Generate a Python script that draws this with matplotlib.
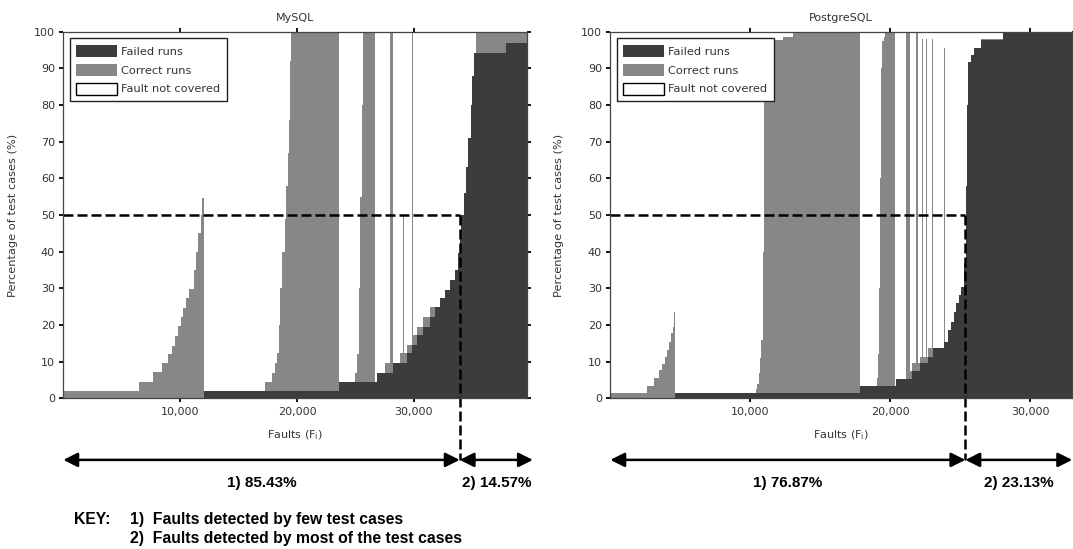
import matplotlib.pyplot as plt
from matplotlib.patches import Patch
import numpy as np

plt.rcParams['font.family'] = ['DejaVu Sans']
bold_font = ['Liberation Sans', 'DejaVu Sans']

# each step starts at x and lasts until the next x (faults sorted)
# failed = % of failed runs, total = failed + correct runs (%)
mysql_x = [0, 6440, 7700, 8440, 9000, 9320, 9590, 9820, 10060, 10260, 10500, 10760,
           11150, 11350, 11560, 11760, 11900,
           12030, 17220, 17850, 18100, 18280, 18420, 18560, 18740, 18930, 19060,
           19190, 19280, 19360, 19430, 19500,
           23600, 24980, 25150, 25300, 25420, 25530, 25650, 26650,
           26830, 27500, 27970, 28170,
           28250, 28800, 29050, 29150, 29400, 29830, 29900, 30260, 30770, 31340,
           31820, 32250, 32680, 33100, 33530, 33750, 33900, 34050, 34250, 34450,
           34650, 34850, 35000, 35150, 35180, 35330, 37900]
mysql_failed = [0, 0, 0, 0, 0, 0, 0, 0, 0, 0, 0, 0,
                0, 0, 0, 0, 0,
                2.1, 2.1, 2.1, 2.1, 2.1, 2.1, 2.1, 2.1, 2.1, 2.1,
                2.1, 2.1, 2.1, 2.1, 2.1,
                4.4, 4.4, 4.4, 4.4, 4.4, 4.4, 4.4, 4.4,
                7.0, 7.0, 7.0, 7.0,
                9.5, 9.5, 9.5, 9.5, 12.3, 14.5, 14.5, 17.3, 19.5, 22.3,
                25.0, 27.3, 29.5, 32.3, 35.0, 39.5, 44.0, 50.0, 56.0, 63.0,
                71.0, 80.0, 88.0, 92.5, 94.3, 94.3, 97.0]
mysql_total = [2.1, 4.4, 7.1, 9.6, 12.0, 14.4, 17.1, 19.6, 22.2, 24.7, 27.3, 29.8,
               35.0, 40.0, 45.0, 50.0, 54.7,
               2.1, 4.5, 7.0, 9.5, 12.3, 20, 30, 40, 49, 58,
               67, 76, 85, 92, 100,
               4.4, 7.0, 12, 30, 55, 80, 100, 4.4,
               7.0, 9.5, 100, 9.5,
               9.5, 12.3, 50, 12.3, 14.5, 100, 17.3, 19.5, 22.3, 25.0,
               25.0, 27.3, 29.5, 32.3, 35.0, 39.5, 44.0, 50.0, 56.0, 63.0,
               71.0, 80.0, 88.0, 100, 94.3, 100, 100]
mysql_faults = 39700
mysql_pct = [85.43, 14.57]

pg_x = [0, 2640, 3140, 3480, 3720, 3890, 4030, 4170, 4360, 4460, 4550,
        4620, 10400, 10500, 10600, 10700, 10800, 10880, 10930, 10960, 10980, 11000,
        12360, 13070,
        17850, 19030, 19100, 19180, 19260, 19330, 19400, 19550, 19650, 20340,
        20400, 21100, 21390, 21520, 21830, 22000, 22110, 22300, 22370, 22590,
        22660, 22710, 22950, 23020, 23040, 23870, 23940, 24120, 24360, 24530,
        24720, 24910, 25070, 25240, 25300, 25380, 25420, 25460, 25500, 25550,
        25750, 25980, 26460, 28050]
pg_failed = [0, 0, 0, 0, 0, 0, 0, 0, 0, 0, 0,
             1.4, 1.4, 1.4, 1.4, 1.4, 1.4, 1.4, 1.4, 1.4, 1.4, 1.4,
             1.4, 1.4,
             3.4, 3.4, 3.4, 3.4, 3.4, 3.4, 3.4, 3.4, 3.4, 3.4,
             5.4, 5.4, 5.4, 7.5, 7.5, 7.5, 9.5, 9.5, 9.5, 9.5,
             9.5, 11.3, 11.3, 11.3, 13.6, 15.4, 15.4, 18.6, 20.9, 23.6,
             25.9, 28.2, 30.4, 32.3, 37.0, 49.5, 58.0, 67.0, 80.0, 91.8,
             93.6, 95.5, 97.8, 100]
pg_total = [1.4, 3.4, 5.5, 7.7, 9.4, 11.2, 13.2, 15.4, 17.7, 19.5, 23.6,
            1.4, 2.5, 4.0, 7.0, 11, 16, 22, 40, 60, 80, 97.8,
            98.5, 100,
            3.4, 5.5, 12, 30, 60, 90, 97.5, 98.5, 100, 3.4,
            5.4, 100, 7.5, 9.5, 100, 9.5, 11.3, 98, 11.3, 98,
            11.3, 13.6, 98, 13.6, 13.6, 95.5, 15.4, 18.6, 20.9, 23.6,
            25.9, 28.2, 30.4, 32.3, 37.0, 49.5, 58.0, 67.0, 80.0, 91.8,
            93.6, 95.5, 98.0, 100]
pg_faults = 33000
pg_pct = [76.87, 23.13]

dark = '#3c3c3c'
gray = '#878787'
txt = '#333333'

W, H = 1073, 549
fig = plt.figure(figsize=(W / 100, H / 100), dpi=100)


def draw(left_px, right_px, title, xs, failed, total, n, pct, arrow_end, ylab_x):
    ax = fig.add_axes([left_px / W, 1 - 398.3 / H, (right_px - left_px) / W, 366.6 / H])
    x = np.append(xs, n)
    f = np.append(failed, failed[-1])
    t = np.append(total, total[-1])
    ax.fill_between(x, 0, f, step='post', color=dark, lw=0)
    ax.fill_between(x, f, t, step='post', color=gray, lw=0)
    ax.set_xlim(0, n)
    ax.set_ylim(0, 100)
    ax.set_xticks([10000, 20000, 30000])
    ax.set_xticklabels(['10,000', '20,000', '30,000'])
    ax.set_yticks(range(0, 101, 10))
    ax.tick_params(direction='out', top=True, right=True, length=3, width=1.3,
                   labelsize=8, labelcolor=txt, pad=3)
    for s in ax.spines.values():
        s.set_color('#444444')
        s.set_linewidth(0.9)
    ax.set_title(title, fontsize=8, color=txt, pad=8)
    ax.set_xlabel('Faults (F$_\\mathregular{i}$)', fontsize=8, color=txt)
    ax.xaxis.set_label_coords(0.5, -0.081)
    ax.set_ylabel('Percentage of test cases (%)', fontsize=8.2, color=txt)
    ax.yaxis.set_label_coords(ylab_x, 0.5)

    handles = [Patch(facecolor=dark, edgecolor='none'),
               Patch(facecolor=gray, edgecolor='none'),
               Patch(facecolor='white', edgecolor='black', lw=1)]
    leg = ax.legend(handles, ['Failed runs', 'Correct runs', 'Fault not covered'],
                    loc='upper left', fontsize=8.2, fancybox=False, framealpha=1,
                    edgecolor='#222222', handlelength=3.6, handleheight=1.25,
                    labelspacing=0.6, borderaxespad=0.55, borderpad=0.6,
                    handletextpad=0.35)
    leg.get_frame().set_linewidth(1.0)
    for tx in leg.get_texts():
        tx.set_color(txt)

    # 50% threshold and split of faults
    split = pct[0] / 100 * n
    y_arrow = -16.8
    ax.plot([0, split], [50, 50], color='black', lw=1.8, dashes=(4, 1.6))
    ax.plot([split, split], [50, y_arrow], color='black', lw=1.8, dashes=(4, 1.6),
            clip_on=False)
    style = dict(arrowstyle='<|-|>,head_length=0.86,head_width=0.43', lw=1.8,
                 color='black', shrinkA=0, shrinkB=0)
    x_end = arrow_end * n
    ax.annotate('', xy=(0, y_arrow), xytext=(split, y_arrow), arrowprops=style,
                annotation_clip=False)
    ax.annotate('', xy=(split, y_arrow), xytext=(x_end, y_arrow), arrowprops=style,
                annotation_clip=False)
    ax.text(split / 2, -23.1, '1) %.2f%%' % pct[0], ha='center', va='center',
            fontsize=11, fontweight='bold', family=bold_font, clip_on=False)
    ax.text((split + x_end) / 2, -23.1, '2) %.2f%%' % pct[1], ha='center',
            va='center', fontsize=11, fontweight='bold', family=bold_font,
            clip_on=False)
    return ax


draw(63.3, 527.3, 'MySQL', mysql_x, mysql_failed, mysql_total, mysql_faults,
     mysql_pct, 1.012, -0.098)
draw(610.3, 1072.2, 'PostgreSQL', pg_x, pg_failed, pg_total, pg_faults,
     pg_pct, 1.0, -0.1)

key = dict(fontsize=11.3, fontweight='bold', family=bold_font, va='baseline')
fig.text(74 / W, 1 - 524 / H, 'KEY:', **key)
fig.text(130 / W, 1 - 524 / H, '1)  Faults detected by few test cases', **key)
fig.text(130 / W, 1 - 543 / H, '2)  Faults detected by most of the test cases', **key)

fig.savefig('out.png', dpi=100)
